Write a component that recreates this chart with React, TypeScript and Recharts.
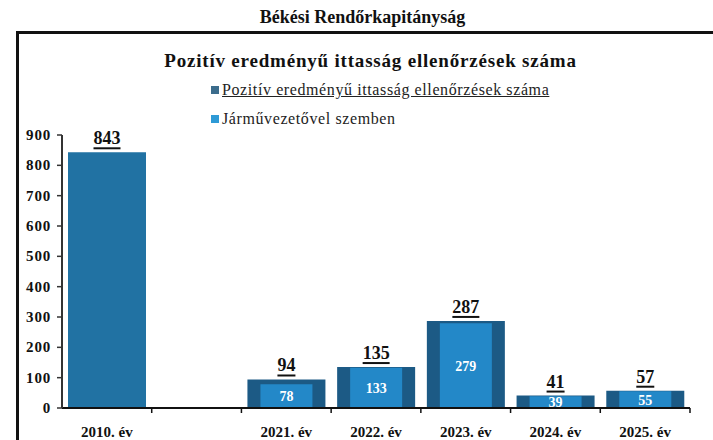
import React from "react";
import { BarChart, Bar, XAxis, YAxis, LabelList, Cell } from "recharts";

const categories = ["2010. év", "", "2021. év", "2022. év", "2023. év", "2024. év", "2025. év"];
const totalValues: (number | null)[] = [843, null, 94, 135, 287, 41, 57];
const driverValues: (number | null)[] = [null, null, 78, 133, 279, 39, 55];
const yTicks = [0, 100, 200, 300, 400, 500, 600, 700, 800, 900];

const seriesNames = ["Pozitív eredményű ittasság ellenőrzések száma", "Járművezetővel szemben"];

const data = categories.map((c, i) => ({ name: c, total: totalValues[i], driver: driverValues[i] }));

const W = 713;
const H = 440;
const M = { top: 135, right: 23, bottom: 2, left: 0 };
const YW = 62;
const XH = 30;
const HALF_SLOT = (W - M.left - M.right - YW) / categories.length / 2;
const FONT = "'Liberation Serif', 'Times New Roman', serif";

const XTick = (props: any) => {
  const { x, y, payload } = props;
  return (
    <g>
      <line x1={x + HALF_SLOT} y1={y - 8} x2={x + HALF_SLOT} y2={y - 3} stroke="#111" strokeWidth={1.5} />
      <text x={x} y={y + 21} textAnchor="middle" fontFamily={FONT} fontWeight="bold" fontSize={15} fill="#111">
        {payload.value}
      </text>
    </g>
  );
};

const YTick = (props: any) => {
  const { x, y, payload } = props;
  return (
    <text x={x - 4} y={y + 5} textAnchor="end" fontFamily={FONT} fontWeight="bold" fontSize={15} letterSpacing={0.8} fill="#111">
      {payload.value}
    </text>
  );
};

const TopLabel = (props: any) => {
  const { x, y, width, value } = props;
  if (value == null || value === 0) return null;
  const cx = x + width / 2;
  const s = String(value);
  const tw = s.length * 9;
  return (
    <g>
      <text x={cx} y={y - 8} textAnchor="middle" fontFamily={FONT} fontWeight="bold" fontSize={18} fill="#111">
        {s}
      </text>
      <line x1={cx - tw / 2} x2={cx + tw / 2} y1={y - 4} y2={y - 4} stroke="#111" strokeWidth={2} />
    </g>
  );
};

const InnerLabel = (props: any) => {
  const { x, y, width, height, value } = props;
  if (value == null) return null;
  return (
    <text x={x + width / 2} y={y + height / 2 + 5} textAnchor="middle" fontFamily={FONT} fontWeight="bold" fontSize={14} fill="#fff">
      {value}
    </text>
  );
};

export default function App() {
  return (
    <div style={{ position: "absolute", left: 0, top: 0, width: W, height: H, background: "#fff", overflow: "hidden", fontFamily: FONT }}>
      <div style={{ position: "absolute", left: 0, width: W, top: 7, textAlign: "center", fontWeight: "bold", fontSize: 18, color: "#111", paddingLeft: 12, boxSizing: "border-box" }}>
        Békési Rendőrkapitányság
      </div>
      <div style={{ position: "absolute", left: 16, top: 31, width: W + 20, height: H + 20, border: "3px solid #111", boxSizing: "border-box" }} />
      <div style={{ position: "absolute", left: 0, width: W, top: 50, textAlign: "center", fontWeight: "bold", fontSize: 19, letterSpacing: 0.8, color: "#111", paddingLeft: 28, boxSizing: "border-box" }}>
        Pozitív eredményű ittasság ellenőrzések száma
      </div>
      <div style={{ position: "absolute", left: 211, top: 75, fontSize: 16, letterSpacing: 0.6, color: "#222", lineHeight: "29px" }}>
        <div style={{ display: "flex", alignItems: "center" }}>
          <span style={{ display: "inline-block", width: 8, height: 8, background: "#3b6c8c", marginRight: 3 }} />
          <span style={{ textDecoration: "underline" }}>{seriesNames[0]}</span>
        </div>
        <div style={{ display: "flex", alignItems: "center" }}>
          <span style={{ display: "inline-block", width: 8, height: 8, background: "#2e9ad6", marginRight: 3 }} />
          <span>{seriesNames[1]}</span>
        </div>
      </div>
      <div style={{ position: "absolute", left: 0, top: 0 }}>
        <BarChart width={W} height={H} data={data} margin={M} barCategoryGap={0}>
          <XAxis xAxisId="a" dataKey="name" height={XH} axisLine={{ stroke: "#111", strokeWidth: 2 }} tickLine={false} tick={<XTick />} interval={0} />
          <XAxis xAxisId="b" dataKey="name" hide />
          <YAxis
            domain={[0, 900]}
            ticks={yTicks}
            width={YW}
            interval={0}
            axisLine={{ stroke: "#333", strokeWidth: 2 }}
            tickLine={{ stroke: "#333", strokeWidth: 1.5 }}
            tickSize={5}
            tick={<YTick />}
          />
          <Bar xAxisId="a" dataKey="total" barSize={78} fill="#1c5a85" isAnimationActive={false}>
            {data.map((d, i) => (
              <Cell key={i} fill={i === 0 ? "#2172a3" : "#1c5a85"} />
            ))}
            <LabelList dataKey="total" content={<TopLabel />} />
          </Bar>
          <Bar xAxisId="b" dataKey="driver" barSize={52} fill="#2388c8" isAnimationActive={false}>
            <LabelList dataKey="driver" content={<InnerLabel />} />
          </Bar>
        </BarChart>
      </div>
    </div>
  );
}
